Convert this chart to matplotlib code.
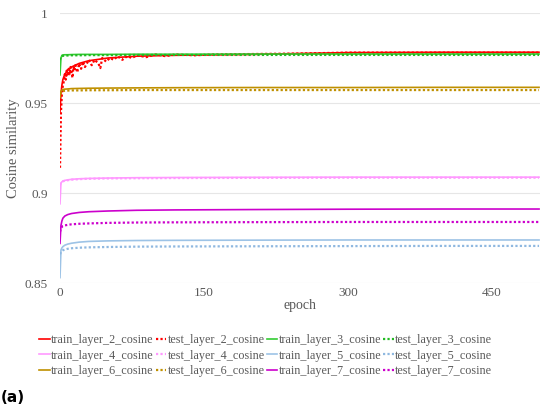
import matplotlib.pyplot as plt

ep = [0, 1, 2, 3, 5, 8, 12, 20, 30, 50, 80, 120, 200, 300, 400, 499]

train_2 = [0.945, 0.955, 0.960, 0.963, 0.966, 0.968, 0.970, 0.972, 0.9735, 0.975, 0.976, 0.9765, 0.977, 0.978, 0.9782, 0.9782]
train_3 = [0.9656, 0.975, 0.9765, 0.9767, 0.9768, 0.9768, 0.9769, 0.977, 0.977, 0.977, 0.9771, 0.9771, 0.9772, 0.9772, 0.9772, 0.9772]
test_3 = [0.974, 0.9758, 0.976, 0.9762, 0.9763, 0.9764, 0.9765, 0.9765, 0.9766, 0.9766, 0.9767, 0.9767, 0.9767, 0.9767, 0.9767, 0.9767]
train_4 = [0.894, 0.9056, 0.9062, 0.9066, 0.907, 0.9073, 0.9076, 0.9079, 0.9081, 0.9083, 0.9085, 0.9086, 0.9087, 0.9088, 0.9088, 0.9088]
test_4 = [0.9045, 0.9058, 0.9062, 0.9065, 0.9068, 0.9071, 0.9074, 0.9077, 0.9079, 0.9081, 0.9082, 0.9083, 0.9084, 0.9085, 0.9085, 0.9085]
train_5 = [0.853, 0.8683, 0.8695, 0.8702, 0.871, 0.8716, 0.8721, 0.8727, 0.8731, 0.8734, 0.8736, 0.8737, 0.8738, 0.8739, 0.8739, 0.8739]
test_5 = [0.866, 0.8672, 0.8678, 0.8682, 0.8686, 0.869, 0.8693, 0.8696, 0.8698, 0.87, 0.8702, 0.8703, 0.8704, 0.8705, 0.8706, 0.8706]
train_6 = [0.953, 0.9565, 0.9572, 0.9575, 0.9577, 0.9578, 0.958, 0.9581, 0.9582, 0.9583, 0.9584, 0.9585, 0.9586, 0.9586, 0.9587, 0.9587]
test_6 = [0.955, 0.9562, 0.9565, 0.9567, 0.9568, 0.9569, 0.957, 0.957, 0.9571, 0.9571, 0.9572, 0.9572, 0.9572, 0.9572, 0.9572, 0.9572]
train_7 = [0.872, 0.882, 0.8845, 0.886, 0.8872, 0.888, 0.8886, 0.8892, 0.8896, 0.89, 0.8904, 0.8906, 0.8908, 0.891, 0.8911, 0.8911]
test_7 = [0.8785, 0.8805, 0.8812, 0.8817, 0.882, 0.8823, 0.8826, 0.8829, 0.8831, 0.8834, 0.8836, 0.8837, 0.8838, 0.8839, 0.8839, 0.8839]

# noisy test curve of layer 2
ep_t2 = [0, 1, 2, 3, 4, 5, 6, 7, 8, 9, 10, 11, 12, 13, 14, 15, 16, 18, 20, 22, 24, 26, 28, 30, 33, 36,
         40, 42, 44, 48, 52, 56, 60, 65, 70, 75, 80, 90, 100, 110, 120, 140, 160, 200, 250, 300, 400, 499]
test_2 = [0.914, 0.945, 0.955, 0.960, 0.962, 0.966, 0.963, 0.968, 0.965, 0.969, 0.966, 0.970, 0.967, 0.964,
          0.970, 0.968, 0.971, 0.967, 0.972, 0.969, 0.973, 0.970, 0.972, 0.974, 0.971, 0.974, 0.972, 0.9694,
          0.975, 0.973, 0.975, 0.974, 0.976, 0.974, 0.976, 0.975, 0.9765, 0.9755, 0.977, 0.976, 0.977, 0.9765,
          0.977, 0.9772, 0.9775, 0.978, 0.978, 0.978]

series = [
    ("train_layer_2_cosine", ep, train_2, "#FF0000", "-"),
    ("test_layer_2_cosine", ep_t2, test_2, "#FF0000", ":"),
    ("train_layer_3_cosine", ep, train_3, "#33CC33", "-"),
    ("test_layer_3_cosine", ep, test_3, "#22BB22", ":"),
    ("train_layer_4_cosine", ep, train_4, "#FF99FF", "-"),
    ("test_layer_4_cosine", ep, test_4, "#FF99FF", ":"),
    ("train_layer_5_cosine", ep, train_5, "#9DC3E6", "-"),
    ("test_layer_5_cosine", ep, test_5, "#8FB8E0", ":"),
    ("train_layer_6_cosine", ep, train_6, "#BF9000", "-"),
    ("test_layer_6_cosine", ep, test_6, "#BF9000", ":"),
    ("train_layer_7_cosine", ep, train_7, "#CC00CC", "-"),
    ("test_layer_7_cosine", ep, test_7, "#CC00CC", ":"),
]

plt.rcParams['font.family'] = ['Liberation Serif', 'DejaVu Serif']
grey = "#595959"

fig = plt.figure(figsize=(5.5, 4.11), dpi=100)
ax = fig.add_axes([60 / 550, 1 - 283 / 411, 480 / 550, 270 / 411])

handles = []
for name, x, y, c, ls in series:
    if ls == "-":
        h, = ax.plot(x, y, color=c, linewidth=1.2, label=name)
    else:
        h, = ax.plot(x, y, color=c, linestyle=(0, (1, 1)), linewidth=1.6, label=name)
    handles.append(h)

ax.set_xlim(0, 500)
ax.set_ylim(0.85, 1.0)
ax.set_xticks([0, 150, 300, 450])
ax.set_yticks([0.85, 0.9, 0.95, 1.0])
ax.set_yticklabels(["0.85", "0.9", "0.95", "1"])
ax.grid(axis="y", color="#E6E6E6", linewidth=0.8)
ax.set_axisbelow(True)
for s in ax.spines.values():
    s.set_visible(False)
ax.tick_params(length=0, labelsize=9.5, labelcolor=grey)
ax.tick_params(axis="y", pad=9)
ax.tick_params(axis="x", pad=3)
ax.set_xlabel("epoch", fontsize=10, color=grey, labelpad=0)
ax.set_ylabel("Cosine similarity", fontsize=10.5, color=grey, labelpad=3)

# matplotlib fills legend columns first, so reorder to read row by row
order = [r * 4 + c for c in range(4) for r in range(3)]
fig.legend([handles[i] for i in order], [series[i][0] for i in order],
           ncol=4, loc="upper left", bbox_to_anchor=(33 / 550, 1 - 328 / 411),
           frameon=False, fontsize=8.7, labelcolor=grey, handlelength=0.9,
           handletextpad=0.1, columnspacing=0.15, labelspacing=0.3, borderpad=0)

fig.text(1 / 550, 1 - 397 / 411, "(a)", fontsize=11, fontweight="bold",
         family="DejaVu Sans", va="center")

fig.savefig("out.png")
